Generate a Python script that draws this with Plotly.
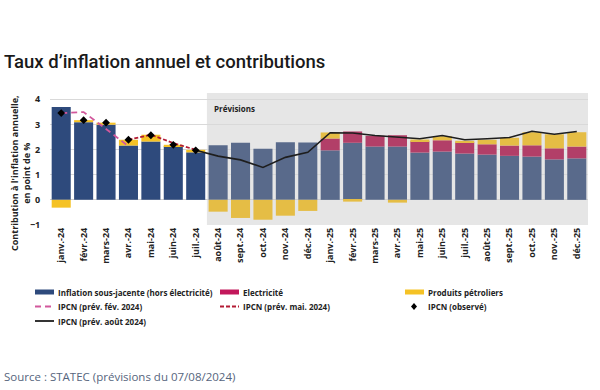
import plotly.graph_objects as go

# ---------------- data ----------------
categories = ["janv.-24", "févr.-24", "mars-24", "avr.-24", "mai-24", "juin-24", "juil.-24",
              "août-24", "sept.-24", "oct.-24", "nov.-24", "déc.-24",
              "janv.-25", "févr.-25", "mars-25", "avr.-25", "mai-25", "juin-25", "juil.-25",
              "août-25", "sept.-25", "oct.-25", "nov.-25", "déc.-25"]
n_observed = 7

core = [3.69, 3.09, 2.99, 2.16, 2.32, 2.13, 1.89,
        2.17, 2.27, 2.03, 2.29, 2.28,
        1.97, 2.27, 2.12, 2.12, 1.88, 1.92, 1.84, 1.80, 1.75, 1.72, 1.61, 1.65]
electricity = [0, 0, 0, 0, 0, 0, 0,
               0, 0, 0, 0, 0,
               0.47, 0.45, 0.43, 0.45, 0.45, 0.45, 0.45, 0.41, 0.41, 0.45, 0.44, 0.47]
oil = [-0.31, 0.08, 0.08, 0.23, 0.27, 0.06, 0.10,
       -0.47, -0.72, -0.79, -0.63, -0.44,
       0.24, -0.07, 0.0, -0.11, 0.07, 0.16, 0.06, 0.18, 0.31, 0.52, 0.56, 0.57]

ipcn_obs_x = categories[0:7]
ipcn_obs = [3.45, 3.17, 3.07, 2.39, 2.57, 2.19, 1.97]

prev_fev_x = categories[0:4]
prev_fev = [3.45, 3.49, 2.82, 2.13]

prev_mai_x = categories[3:7]
prev_mai = [2.39, 2.59, 2.26, 1.99]

prev_aout_x = categories[6:]
prev_aout = [1.97, 1.74, 1.59, 1.29, 1.69, 1.89, 2.67, 2.66, 2.56, 2.49, 2.43, 2.56,
             2.39, 2.43, 2.48, 2.73, 2.61, 2.72]

legend_labels = ["Inflation sous-jacente (hors électricité)", "Electricité", "Produits pétroliers",
                 "IPCN (prév. fév. 2024)", "IPCN (prév. mai. 2024)", "IPCN (observé)",
                 "IPCN (prév. août 2024)"]

# ---------------- style ----------------
C_CORE_OBS, C_CORE_FC = "#2E4A7C", "#596A8B"
C_ELEC_OBS, C_ELEC_FC = "#C2185B", "#B23F68"
C_OIL_OBS, C_OIL_FC = "#F5C225", "#E5BD45"
C_PINK, C_RED, C_BLACK = "#D2589C", "#B31B34", "#1E1E1E"
SHADE = "#E6E6E6"
FONT = "Open Sans"

def split_colors(c_obs, c_fc):
    return [c_obs if i < n_observed else c_fc for i in range(len(categories))]

L, R, T, B = 50, 588, 93, 225
def px(x):
    return (x - L) / (R - L)
def py(y):
    return (B - y) / (B - T)

fig = go.Figure()
fig.add_trace(go.Bar(x=categories, y=core, marker_color=split_colors(C_CORE_OBS, C_CORE_FC),
                     marker_line_width=0, name=legend_labels[0]))
fig.add_trace(go.Bar(x=categories, y=electricity, marker_color=split_colors(C_ELEC_OBS, C_ELEC_FC),
                     marker_line_width=0, name=legend_labels[1]))
fig.add_trace(go.Bar(x=categories, y=oil, marker_color=split_colors(C_OIL_OBS, C_OIL_FC),
                     marker_line_width=0, name=legend_labels[2]))
fig.add_trace(go.Scatter(x=prev_fev_x, y=prev_fev, mode="lines",
                         line=dict(color=C_PINK, width=1.8, dash="6px,4px"), name=legend_labels[3]))
fig.add_trace(go.Scatter(x=prev_mai_x, y=prev_mai, mode="lines",
                         line=dict(color=C_RED, width=1.8, dash="4px,2px"), name=legend_labels[4]))
fig.add_trace(go.Scatter(x=prev_aout_x, y=prev_aout, mode="lines",
                         line=dict(color=C_BLACK, width=1.6), name=legend_labels[6]))
fig.add_trace(go.Scatter(x=ipcn_obs_x, y=ipcn_obs, mode="markers",
                         marker=dict(symbol="diamond", size=6, color="black"), name=legend_labels[5]))

shapes = [dict(type="rect", xref="x", yref="paper", x0=n_observed - 0.5, x1=len(categories) - 0.5,
               y0=0, y1=1, fillcolor=SHADE, line_width=0, layer="below")]
annotations = []

# custom legend
cols = [35, 220, 405]
rows = [292, 306.5, 321]
entries = [(0, 0, "bar", C_CORE_OBS), (1, 0, "bar", C_ELEC_OBS), (2, 0, "bar", C_OIL_OBS),
           (0, 1, "pink", C_PINK), (1, 1, "red", C_RED), (2, 1, "marker", "black"),
           (0, 2, "black", C_BLACK)]
for idx, (c, r, kind, col) in enumerate(entries):
    x0 = cols[c]
    y = rows[r]
    if kind == "bar":
        shapes.append(dict(type="rect", xref="paper", yref="paper", x0=px(x0), x1=px(x0 + 19),
                           y0=py(y + 2.5), y1=py(y - 2.5), fillcolor=col, line_width=0))
    elif kind == "marker":
        cx = x0 + 9
        path = (f"M {px(cx - 3)} {py(y)} L {px(cx)} {py(y - 3.5)} L {px(cx + 3)} {py(y)} "
                f"L {px(cx)} {py(y + 3.5)} Z")
        shapes.append(dict(type="path", xref="paper", yref="paper", path=path,
                           fillcolor="black", line_width=0))
    else:
        dash = {"pink": "6px,4px", "red": "4px,2px", "black": "solid"}[kind]
        shapes.append(dict(type="line", xref="paper", yref="paper", x0=px(x0), x1=px(x0 + 19),
                           y0=py(y), y1=py(y), line=dict(color=col, width=1.8, dash=dash)))
    annotations.append(dict(text=legend_labels[idx], xref="paper", yref="paper", x=px(x0 + 21), y=py(y),
                            xanchor="left", yanchor="middle", showarrow=False,
                            font=dict(family=FONT, size=8, color="#222", weight="bold")))

annotations += [
    dict(text="Taux d’inflation annuel et contributions", xref="paper", yref="paper",
         x=px(2), y=py(62), xanchor="left", yanchor="middle", showarrow=False,
         font=dict(family="Roboto", size=18.5, color="#1a1a1a", weight=500)),
    dict(text="Source : STATEC (prévisions du 07/08/2024)", xref="paper", yref="paper",
         x=px(2), y=py(376), xanchor="left", yanchor="middle", showarrow=False,
         font=dict(family=FONT, size=11.5, color="#56657d")),
    dict(text="Contribution à l'inflation annuelle,<br>en point de %", xref="paper", yref="paper",
         x=px(20), y=py(173), xanchor="center", yanchor="middle", textangle=-90, showarrow=False,
         font=dict(family=FONT, size=9, color="#222", weight="bold")),
    dict(text="Prévisions", xref="x", yref="paper", x=n_observed - 0.5, xshift=5, y=py(108),
         xanchor="left", yanchor="middle", showarrow=False,
         font=dict(family=FONT, size=8, color="#222", weight="bold")),
]

fig.update_layout(
    width=600, height=390,
    margin=dict(l=L, r=600 - R, t=T, b=390 - B),
    barmode="relative", bargap=0.15,
    plot_bgcolor="white", paper_bgcolor="white",
    showlegend=False,
    shapes=shapes, annotations=annotations,
    font=dict(family=FONT, size=9, color="#222"),
)
fig.update_xaxes(type="category", tickangle=-90, showgrid=False, showline=False, ticks="",
                 tickfont=dict(family=FONT, size=9, color="#222", weight="bold"),
                 range=[-0.5, len(categories) - 0.5])
fig.update_yaxes(range=[-1, 4.25], tickvals=[-1, 0, 1, 2, 3, 4], showgrid=True, gridcolor="#D9D9D9",
                 gridwidth=1, zeroline=True, zerolinecolor="#D0D0D0", zerolinewidth=1,
                 showline=False, ticks="outside", ticklen=7, tickcolor="rgba(0,0,0,0)",
                 tickfont=dict(family=FONT, size=9, color="#222", weight="bold"))

fig.write_html("out.html", config={"displayModeBar": False},
               post_script="document.body.style.margin='0';")
